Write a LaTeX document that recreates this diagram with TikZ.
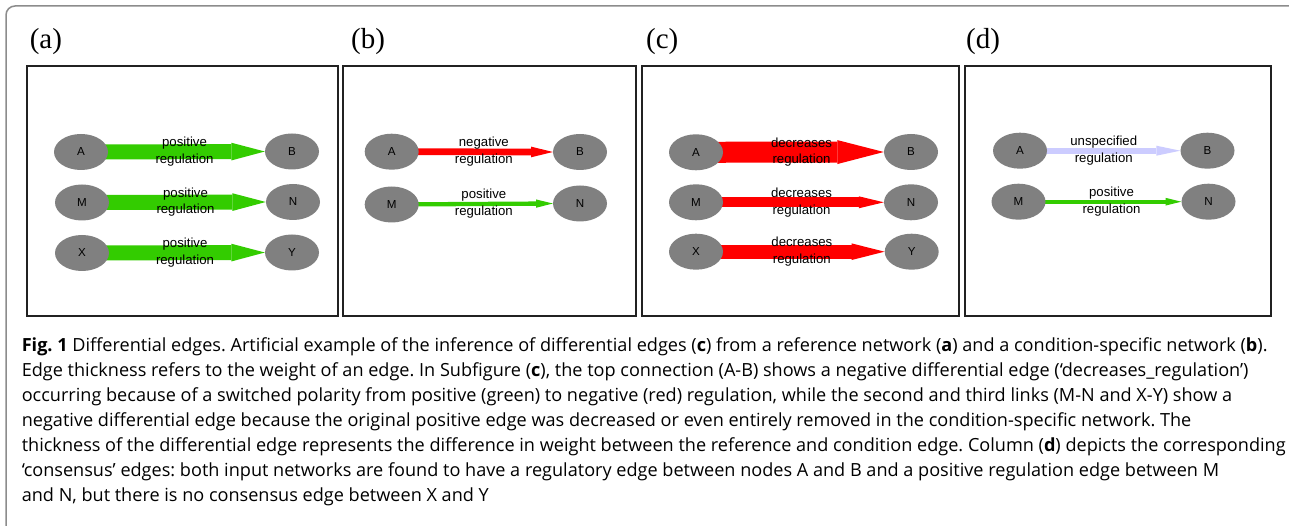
\documentclass[tikz,border=0pt]{standalone}
\usepackage{fontspec}
\setmainfont{Liberation Sans}
\newfontfamily\capfont{Open Sans}
\newfontfamily\panelfont{Liberation Serif}
\usepackage{xcolor}
\definecolor{nodegray}{rgb}{0.5,0.5,0.5}
\definecolor{posgreen}{rgb}{0.2,0.8,0}
\definecolor{negred}{rgb}{1,0,0}
\definecolor{unspec}{rgb}{0.8,0.8,1}
\definecolor{framegray}{rgb}{0.55,0.55,0.55}
\definecolor{boxline}{rgb}{0.13,0.13,0.13}
\usepackage{tikz}
\usetikzlibrary{shapes.geometric, arrows.meta, backgrounds}
\frenchspacing

\begin{document}
\begin{tikzpicture}
[x=1pt, y=-1pt,
 gene/.style={ellipse, fill=nodegray, inner sep=0pt,
 minimum width=54pt, minimum height=36pt,
 font=\fontsize{11.6}{12}\selectfont},
 reg/.style n args={4}{draw=#1, line width=#2pt, shorten <=-12pt,
 -{Triangle[length=#4pt, width=#3pt, line width=0pt]}},
 reglabel/.style={midway, align=center, xshift=-2pt,
 font=\fontsize{13.2}{16.7}\selectfont},
 panel/.style={draw=boxline, line width=2.5pt},
 panellabel/.style={anchor=base west, inner sep=0pt,
 font=\panelfont\fontsize{29}{30}\selectfont},
 capline/.style={anchor=base west, inner sep=0pt,
 font=\capfont\fontsize{18.1}{25}\selectfont},
]

\useasboundingbox (0,0) rectangle (1289,526);
\begin{scope}[on background layer]
\fill[white] (0,0) rectangle (1289,526);
\end{scope}
\clip (0,0) rectangle (1289,526);

\draw[framegray, line width=1.5pt, rounded corners=9pt] (6,6) rectangle (1320,580);

\draw[panel] (27,66) rectangle (338,316);
\draw[panel] (343,66) rectangle (636,316);
\draw[panel] (642,66) rectangle (959,316);
\draw[panel] (965,66) rectangle (1271,316);

\node[panellabel] (la) at (29.6,48.5) {(a)};
\node[panellabel] (lb) at (350.9,48.5) {(b)};
\node[panellabel] (lc) at (646,48.5) {(c)};
\node[panellabel] (ld) at (966,48.5) {(d)};

% reference network
\node[gene] (aA) at (81,152) {A};
\node[gene] (aB) at (292,151.5) {B};
\node[gene] (aM) at (82,202.5) {M};
\node[gene] (aN) at (293,202) {N};
\node[gene] (aX) at (82,253) {X};
\node[gene] (aY) at (292,252.5) {Y};

% condition-specific network
\node[gene] (bA) at (391.7,151.7) {A};
\node[gene] (bB) at (580,152) {B};
\node[gene] (bM) at (391.7,204.5) {M};
\node[gene] (bN) at (580,203.5) {N};

% differential network
\node[gene] (cA) at (696,152.3) {A};
\node[gene] (cB) at (911,152) {B};
\node[gene] (cM) at (696,202.3) {M};
\node[gene] (cN) at (911,202.3) {N};
\node[gene] (cX) at (696,251.7) {X};
\node[gene] (cY) at (911.7,251.7) {Y};

% consensus network
\node[gene] (dA) at (1020,150.7) {A};
\node[gene] (dB) at (1207.5,150.7) {B};
\node[gene] (dM) at (1018.5,201.7) {M};
\node[gene] (dN) at (1208.5,201.7) {N};

\begin{scope}[on background layer]
\draw
(aA) edge[reg={posgreen}{15}{17.7}{33.4}] node[reglabel]{positive\\regulation} (aB.west)
(aM) edge[reg={posgreen}{15}{17.7}{33.4}] node[reglabel]{positive\\regulation} (aN.west)
(aX) edge[reg={posgreen}{15}{17.7}{33.4}] node[reglabel]{positive\\regulation} (aY.west)

(bA) edge[reg={negred}{6.7}{10.7}{21.7}] node[reglabel]{negative\\regulation} (bB.west)
(bM) edge[reg={posgreen}{4.3}{8.3}{16.7}] node[reglabel]{positive\\regulation} (bN.west)

(cA) edge[reg={negred}{21}{24}{46.5}] node[reglabel]{decreases\\regulation} (cB.west)
(cM) edge[reg={negred}{10}{12}{25}] node[reglabel]{decreases\\regulation} (cN.west)
(cX) edge[reg={negred}{13.7}{16.7}{33}] node[reglabel]{decreases\\regulation} (cY.west)

(dA) edge[reg={unspec}{6}{10}{24}] node[reglabel, xshift=-8pt]{unspecified\\regulation} (dB.west)
(dM) edge[reg={posgreen}{4.3}{7.7}{15.7}] node[reglabel]{positive\\regulation} (dN.west);
\end{scope}

% caption
\node[capline] (cap1) at (21.6,351) {\textbf{Fig. 1} Differential edges. Artificial example of the inference of differential edges (\textbf{c}) from a reference network (\textbf{a}) and a condition-specific network (\textbf{b}).};
\node[capline] (cap2) at (21.6,376) {Edge thickness refers to the weight of an edge. In Subfigure (\textbf{c}), the top connection (A-B) shows a negative differential edge (‘decreases\_regulation’)};
\node[capline] (cap3) at (21.6,401) {occurring because of a switched polarity from positive (green) to negative (red) regulation, while the second and third links (M-N and X-Y) show a};
\node[capline] (cap4) at (21.6,426) {negative differential edge because the original positive edge was decreased or even entirely removed in the condition-specific network. The};
\node[capline] (cap5) at (21.6,451) {thickness of the differential edge represents the difference in weight between the reference and condition edge. Column (\textbf{d}) depicts the corresponding};
\node[capline] (cap6) at (21.6,476) {‘consensus’ edges: both input networks are found to have a regulatory edge between nodes A and B and a positive regulation edge between M};
\node[capline] (cap7) at (21.6,501) {and N, but there is no consensus edge between X and Y};
\end{tikzpicture}
\end{document}
